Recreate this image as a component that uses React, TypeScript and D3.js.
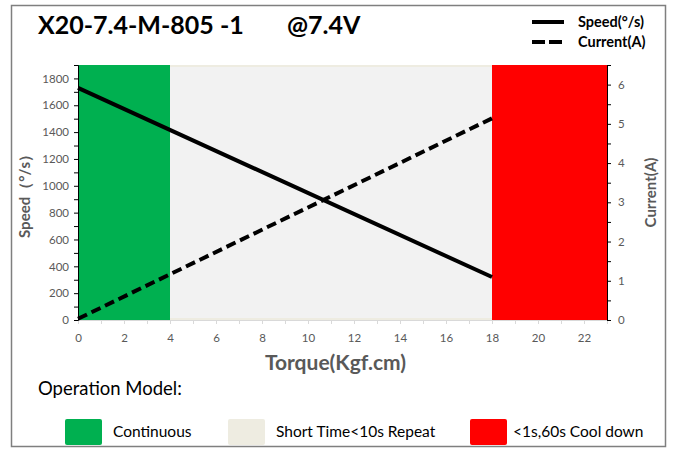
import React, { useEffect, useRef } from 'react';
import * as d3 from 'd3';

// values
const torque = [0, 18];
const speed = [1730, 320];
const current = [0.03, 5.14];

const zoneNames = ['Continuous', 'Short Time<10s Repeat', '<1s,60s Cool down'];
const zoneFrom = [0, 4, 18];
const zoneTo = [4, 18, 23];

const xTickValues = d3.range(0, 23, 2);
const speedTickValues = d3.range(0, 1801, 200);
const currentTickValues = d3.range(0, 7, 1);

const title = 'X20-7.4-M-805 -1';
const voltage = '@7.4V';

const FONT = 'Lato, "Open Sans", sans-serif';
const GRAY_TEXT = '#595959';
const zoneFill = ['#00B050', '#F2F2F2', '#FF0000'];
const zoneKey = ['#00B050', '#EEECE1', '#FF0000'];

export default function App() {
  const svgRef = useRef<SVGSVGElement>(null);

  useEffect(() => {
    if (!svgRef.current) return;
    const W = 674;
    const H = 449;
    const margin = { top: 65, right: 67, bottom: 129, left: 78 };
    const innerW = W - margin.left - margin.right;
    const innerH = H - margin.top - margin.bottom;

    const root = d3.select(svgRef.current);
    root.selectAll('*').remove();
    root.attr('width', W).attr('height', H);

    // frame
    root.append('rect')
      .attr('x', 11.5).attr('y', 5.5)
      .attr('width', 654).attr('height', 441)
      .attr('fill', '#fff')
      .attr('stroke', '#7F7F7F')
      .attr('stroke-width', 1.5);

    const x = d3.scaleLinear().domain([0, 23]).range([0, innerW]);
    const yL = d3.scaleLinear().domain([0, 1900]).range([innerH, 0]);
    const yR = d3.scaleLinear().domain([0, 6.5]).range([innerH, 0]);

    const g = root.append('g').attr('transform', `translate(${margin.left},${margin.top})`);

    // operating zones
    zoneFrom.forEach((z0, i) => {
      if (i === 1) {
        g.append('rect')
          .attr('x', x(z0)).attr('y', 0)
          .attr('width', x(zoneTo[i]) - x(z0)).attr('height', innerH)
          .attr('fill', '#EEECE1');
        g.append('rect')
          .attr('x', x(z0)).attr('y', 2)
          .attr('width', x(zoneTo[i]) - x(z0)).attr('height', innerH - 4)
          .attr('fill', zoneFill[i]);
      } else {
        g.append('rect')
          .attr('x', x(z0)).attr('y', 0)
          .attr('width', x(zoneTo[i]) - x(z0)).attr('height', innerH)
          .attr('fill', zoneFill[i]);
      }
    });

    const fmt = d3.format('d');

    // x axis
    g.append('g')
      .attr('transform', `translate(0,${innerH})`)
      .call(d3.axisBottom(x).tickValues(d3.range(0, 24, 1)).tickSize(4).tickFormat(() => ''))
      .call(s => s.select('.domain').attr('stroke', '#D9D9D9'))
      .call(s => s.selectAll('.tick line').attr('stroke', '#D9D9D9'));
    g.append('g')
      .attr('transform', `translate(0,${innerH})`)
      .call(d3.axisBottom(x).tickValues(xTickValues).tickSize(0).tickPadding(14).tickFormat(d => fmt(d as number)))
      .call(s => s.select('.domain').remove())
      .call(s => s.selectAll('.tick text')
        .attr('fill', GRAY_TEXT).attr('font-family', FONT).attr('font-size', '11.5px'));

    // left axis
    g.append('g')
      .call(d3.axisLeft(yL).tickValues(d3.range(0, 1901, 100)).tickSize(4).tickFormat(() => ''))
      .call(s => s.select('.domain').attr('stroke', '#000'))
      .call(s => s.selectAll('.tick line').attr('stroke', '#000'));
    g.append('g')
      .call(d3.axisLeft(yL).tickValues(speedTickValues).tickSize(0).tickPadding(9).tickFormat(d => fmt(d as number)))
      .call(s => s.select('.domain').remove())
      .call(s => s.selectAll('.tick text')
        .attr('fill', GRAY_TEXT).attr('font-family', FONT).attr('font-size', '11.5px'));

    // right axis
    g.append('g')
      .attr('transform', `translate(${innerW},0)`)
      .call(d3.axisRight(yR).tickValues(d3.range(0, 6.6, 0.5)).tickSize(4).tickFormat(() => ''))
      .call(s => s.select('.domain').attr('stroke', '#000'))
      .call(s => s.selectAll('.tick line').attr('stroke', '#000'));
    g.append('g')
      .attr('transform', `translate(${innerW},0)`)
      .call(d3.axisRight(yR).tickValues(currentTickValues).tickSize(0).tickPadding(11).tickFormat(d => fmt(d as number)))
      .call(s => s.select('.domain').remove())
      .call(s => s.selectAll('.tick text')
        .attr('fill', GRAY_TEXT).attr('font-family', FONT).attr('font-size', '11.5px'));

    // series
    const speedLine = d3.line<number>().x((_, i) => x(torque[i])).y(d => yL(d));
    const currentLine = d3.line<number>().x((_, i) => x(torque[i])).y(d => yR(d));

    g.append('path')
      .datum(speed)
      .attr('fill', 'none')
      .attr('stroke', '#000')
      .attr('stroke-width', 4)
      .attr('d', speedLine);

    g.append('path')
      .datum(current)
      .attr('fill', 'none')
      .attr('stroke', '#000')
      .attr('stroke-width', 4)
      .attr('stroke-dasharray', '10,5')
      .attr('d', currentLine);

    // axis titles
    g.append('text')
      .attr('x', innerW / 2 - 7).attr('y', innerH + 50)
      .attr('text-anchor', 'middle')
      .attr('font-family', FONT).attr('font-weight', 'bold').attr('font-size', '21px')
      .attr('fill', GRAY_TEXT)
      .text('Torque(Kgf.cm)');

    root.append('text')
      .attr('transform', `translate(30,${margin.top + innerH / 2}) rotate(-90)`)
      .attr('text-anchor', 'middle')
      .attr('font-family', FONT).attr('font-weight', 'bold').attr('font-size', '15px')
      .attr('fill', GRAY_TEXT)
      .text('Speed（°/s）');

    root.append('text')
      .attr('transform', `translate(656,${margin.top + innerH / 2}) rotate(-90)`)
      .attr('text-anchor', 'middle')
      .attr('font-family', FONT).attr('font-weight', 'bold').attr('font-size', '15px')
      .attr('fill', GRAY_TEXT)
      .text('Current(A)');

    // title
    root.append('text')
      .attr('x', 38).attr('y', 34)
      .attr('font-family', FONT).attr('font-weight', 'bold').attr('font-size', '25px')
      .attr('fill', '#000')
      .text(title);
    root.append('text')
      .attr('x', 287).attr('y', 34)
      .attr('font-family', FONT).attr('font-weight', 'bold').attr('font-size', '25px')
      .attr('fill', '#000')
      .text(voltage);

    // series legend
    const seriesLegend = [
      { name: 'Speed(°/s)', dash: null as string | null },
      { name: 'Current(A)', dash: '13,4' },
    ];
    seriesLegend.forEach((s, i) => {
      const ly = 22 + i * 20;
      root.append('line')
        .attr('x1', 532).attr('x2', 564).attr('y1', ly).attr('y2', ly)
        .attr('stroke', '#000').attr('stroke-width', 4)
        .attr('stroke-dasharray', s.dash);
      root.append('text')
        .attr('x', 578).attr('y', ly + 5)
        .attr('font-family', FONT).attr('font-weight', 'bold').attr('font-size', '14.5px')
        .attr('fill', '#000')
        .text(s.name);
    });

    // operation model legend
    root.append('text')
      .attr('x', 38).attr('y', 395)
      .attr('font-family', FONT).attr('font-size', '18.5px')
      .attr('fill', '#000')
      .text('Operation Model:');

    const keyX = [65, 228, 470];
    zoneNames.forEach((name, i) => {
      root.append('rect')
        .attr('x', keyX[i]).attr('y', 419)
        .attr('width', 37).attr('height', 26).attr('rx', 2)
        .attr('fill', zoneKey[i]);
      root.append('text')
        .attr('x', keyX[i] + (i === 2 ? 43 : 48)).attr('y', 437)
        .attr('font-family', FONT).attr('font-size', '15.5px')
        .attr('fill', '#000')
        .text(name);
    });
  }, []);

  return (
    <div style={{ position: 'absolute', left: 0, top: 0, background: '#fff' }}>
      <svg ref={svgRef} style={{ display: 'block' }} />
    </div>
  );
}
